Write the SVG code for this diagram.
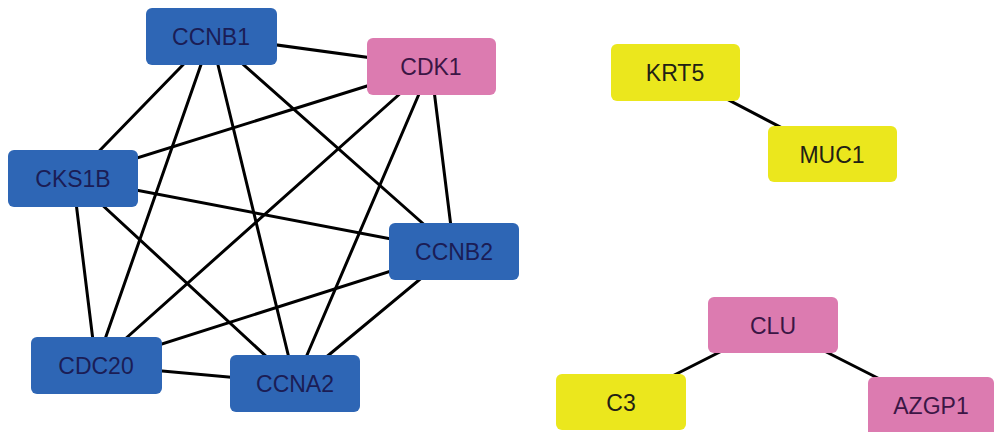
<svg xmlns="http://www.w3.org/2000/svg" width="994" height="432" viewBox="0 0 994 432">
<style>
.e{stroke:#000;stroke-width:3;stroke-linecap:round}
.n rect{rx:6;ry:6}
.b rect{fill:#2e66b5}
.p rect{fill:#dc7bb0}
.y rect{fill:#ebe71d}
.n text{font-family:"Liberation Sans",Arial,sans-serif;font-size:23px;text-anchor:middle}
.b text{fill:#1b1d55}
.p text{fill:#3b1645}
.y text{fill:#222015}
</style>
<rect width="994" height="432" fill="#fff"/>
<g id="connectors">
<line class="e" x1="211" y1="36" x2="431" y2="66"/>
<line class="e" x1="211" y1="36" x2="73" y2="178"/>
<line class="e" x1="211" y1="36" x2="96" y2="365"/>
<line class="e" x1="211" y1="36" x2="295" y2="383"/>
<line class="e" x1="211" y1="36" x2="454" y2="251"/>
<line class="e" x1="431" y1="66" x2="73" y2="178"/>
<line class="e" x1="431" y1="66" x2="96" y2="365"/>
<line class="e" x1="431" y1="66" x2="295" y2="383"/>
<line class="e" x1="431" y1="66" x2="454" y2="251"/>
<line class="e" x1="73" y1="178" x2="454" y2="251"/>
<line class="e" x1="73" y1="178" x2="96" y2="365"/>
<line class="e" x1="73" y1="178" x2="295" y2="383"/>
<line class="e" x1="454" y1="251" x2="96" y2="365"/>
<line class="e" x1="454" y1="251" x2="295" y2="383"/>
<line class="e" x1="96" y1="365" x2="295" y2="383"/>
<line class="e" x1="675" y1="72" x2="832" y2="154"/>
<line class="e" x1="773" y1="325" x2="621" y2="402"/>
<line class="e" x1="773" y1="325" x2="931" y2="405"/>
</g>
<g id="CCNB1" class="n b"><rect x="146" y="8" width="131" height="57"/><text x="211" y="45">CCNB1</text></g>
<g id="CDK1" class="n p"><rect x="367" y="38" width="129" height="57"/><text x="431" y="75">CDK1</text></g>
<g id="CKS1B" class="n b"><rect x="8" y="150" width="130" height="57"/><text x="73" y="187">CKS1B</text></g>
<g id="CCNB2" class="n b"><rect x="389" y="223" width="130" height="57"/><text x="454" y="260">CCNB2</text></g>
<g id="CDC20" class="n b"><rect x="31" y="337" width="131" height="57"/><text x="96" y="374">CDC20</text></g>
<g id="CCNA2" class="n b"><rect x="230" y="355" width="130" height="57"/><text x="295" y="392">CCNA2</text></g>
<g id="KRT5" class="n y"><rect x="611" y="44" width="129" height="57"/><text x="675" y="81">KRT5</text></g>
<g id="MUC1" class="n y"><rect x="768" y="126" width="129" height="56"/><text x="832" y="163">MUC1</text></g>
<g id="CLU" class="n p"><rect x="708" y="297" width="130" height="56"/><text x="773" y="334">CLU</text></g>
<g id="C3" class="n y"><rect x="556" y="374" width="130" height="56"/><text x="621" y="411">C3</text></g>
<g id="AZGP1" class="n p"><rect x="868" y="377" width="126" height="60"/><text x="931" y="414">AZGP1</text></g>
</svg>
